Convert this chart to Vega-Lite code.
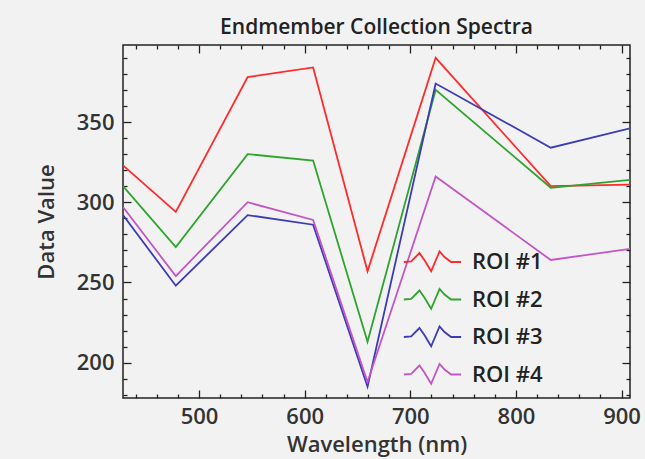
{
  "$schema": "https://vega.github.io/schema/vega-lite/v6.json",
  "width": 507,
  "height": 353,
  "autosize": {"type": "none"},
  "padding": {"left": 123, "top": 45, "right": 15, "bottom": 61},
  "background": "#f2f2f2",
  "title": {
    "text": "Endmember Collection Spectra",
    "font": "Open Sans",
    "fontSize": 21,
    "fontWeight": 600,
    "color": "#222",
    "anchor": "middle",
    "offset": 6
  },
  "data": {
    "values": [
      {"wavelength": 428, "value": 323, "roi": "ROI #1"},
      {"wavelength": 478, "value": 294, "roi": "ROI #1"},
      {"wavelength": 546, "value": 378, "roi": "ROI #1"},
      {"wavelength": 608, "value": 384, "roi": "ROI #1"},
      {"wavelength": 659.5, "value": 257, "roi": "ROI #1"},
      {"wavelength": 724, "value": 390, "roi": "ROI #1"},
      {"wavelength": 833, "value": 310, "roi": "ROI #1"},
      {"wavelength": 908, "value": 311, "roi": "ROI #1"},
      {"wavelength": 428, "value": 310, "roi": "ROI #2"},
      {"wavelength": 478, "value": 272, "roi": "ROI #2"},
      {"wavelength": 546, "value": 330, "roi": "ROI #2"},
      {"wavelength": 608, "value": 326, "roi": "ROI #2"},
      {"wavelength": 659.5, "value": 213, "roi": "ROI #2"},
      {"wavelength": 724, "value": 370, "roi": "ROI #2"},
      {"wavelength": 833, "value": 309, "roi": "ROI #2"},
      {"wavelength": 908, "value": 314, "roi": "ROI #2"},
      {"wavelength": 428, "value": 292, "roi": "ROI #3"},
      {"wavelength": 478, "value": 248, "roi": "ROI #3"},
      {"wavelength": 546, "value": 292, "roi": "ROI #3"},
      {"wavelength": 608, "value": 286, "roi": "ROI #3"},
      {"wavelength": 659.5, "value": 185, "roi": "ROI #3"},
      {"wavelength": 724, "value": 374, "roi": "ROI #3"},
      {"wavelength": 833, "value": 334, "roi": "ROI #3"},
      {"wavelength": 908, "value": 346, "roi": "ROI #3"},
      {"wavelength": 428, "value": 297, "roi": "ROI #4"},
      {"wavelength": 478, "value": 254, "roi": "ROI #4"},
      {"wavelength": 546, "value": 300, "roi": "ROI #4"},
      {"wavelength": 608, "value": 289, "roi": "ROI #4"},
      {"wavelength": 659.5, "value": 188, "roi": "ROI #4"},
      {"wavelength": 724, "value": 316, "roi": "ROI #4"},
      {"wavelength": 833, "value": 264, "roi": "ROI #4"},
      {"wavelength": 908, "value": 271, "roi": "ROI #4"}
    ]
  },
  "layer": [
    {
      "mark": {"type": "line", "strokeWidth": 1.8, "clip": true},
      "encoding": {
        "x": {
          "field": "wavelength",
          "type": "quantitative",
          "scale": {"domain": [428, 908], "nice": false, "zero": false},
          "axis": {
            "orient": "bottom",
            "title": "Wavelength (nm)",
            "values": [440, 460, 480, 500, 520, 540, 560, 580, 600, 620, 640, 660, 680, 700, 720, 740, 760, 780, 800, 820, 840, 860, 880, 900],
            "labelExpr": "datum.value % 100 === 0 ? datum.label : ''",
            "tickSize": {"condition": {"test": "datum.value % 100 === 0", "value": -8}, "value": -4},
            "labelPadding": 16,
            "titlePadding": 3
          }
        },
        "y": {
          "field": "value",
          "type": "quantitative",
          "scale": {"domain": [178, 398], "nice": false, "zero": false},
          "axis": {
            "orient": "left",
            "title": "Data Value",
            "values": [180, 190, 200, 210, 220, 230, 240, 250, 260, 270, 280, 290, 300, 310, 320, 330, 340, 350, 360, 370, 380, 390],
            "labelExpr": "datum.value % 50 === 0 ? datum.label : ''",
            "tickSize": {"condition": {"test": "datum.value % 50 === 0", "value": -8}, "value": -4},
            "labelPadding": 17,
            "titlePadding": 18
          }
        },
        "color": {
          "field": "roi",
          "type": "nominal",
          "scale": {
            "domain": ["ROI #1", "ROI #2", "ROI #3", "ROI #4"],
            "range": ["#ff2a2a", "#2ea42e", "#3c3cb4", "#c455c4"]
          },
          "legend": {
            "title": null,
            "orient": "none",
            "legendX": 293.5,
            "legendY": 201,
            "padding": 0,
            "symbolType": "M-1.91,0 L-1.42,-0.04 L-0.87,-0.6 L-0.53,-0.11 L-0.09,0.62 L0.47,-0.71 L0.8,-0.33 L1.24,0 L1.91,0",
            "symbolSize": 900,
            "symbolStrokeWidth": 1.8,
            "symbolFillColor": "transparent",
            "labelOffset": 23.5,
            "rowPadding": 8.5,
            "labelFont": "Open Sans",
            "labelFontSize": 22,
            "labelFontWeight": 600,
            "labelColor": "#222"
          }
        }
      }
    },
    {
      "mark": {"type": "line", "opacity": 0},
      "encoding": {
        "x": {
          "field": "wavelength",
          "type": "quantitative",
          "axis": {
            "orient": "top",
            "title": null,
            "labels": false,
            "values": [440, 460, 480, 500, 520, 540, 560, 580, 600, 620, 640, 660, 680, 700, 720, 740, 760, 780, 800, 820, 840, 860, 880, 900],
            "tickSize": {"condition": {"test": "datum.value % 100 === 0", "value": -8}, "value": -4}
          }
        },
        "y": {
          "field": "value",
          "type": "quantitative",
          "axis": {
            "orient": "right",
            "title": null,
            "labels": false,
            "values": [180, 190, 200, 210, 220, 230, 240, 250, 260, 270, 280, 290, 300, 310, 320, 330, 340, 350, 360, 370, 380, 390],
            "tickSize": {"condition": {"test": "datum.value % 50 === 0", "value": -8}, "value": -4}
          }
        },
        "detail": {"field": "roi", "type": "nominal"}
      }
    }
  ],
  "resolve": {"axis": {"x": "independent", "y": "independent"}},
  "config": {
    "view": {"stroke": "#222", "strokeWidth": 1.5},
    "axis": {
      "domain": false,
      "grid": false,
      "tickColor": "#222",
      "tickWidth": 1.3,
      "labelFont": "Open Sans",
      "labelFontSize": 22,
      "labelFontWeight": 600,
      "labelColor": "#333",
      "titleFont": "Open Sans",
      "titleFontSize": 22,
      "titleFontWeight": 600,
      "titleColor": "#333",
      "labelOverlap": false
    }
  }
}
